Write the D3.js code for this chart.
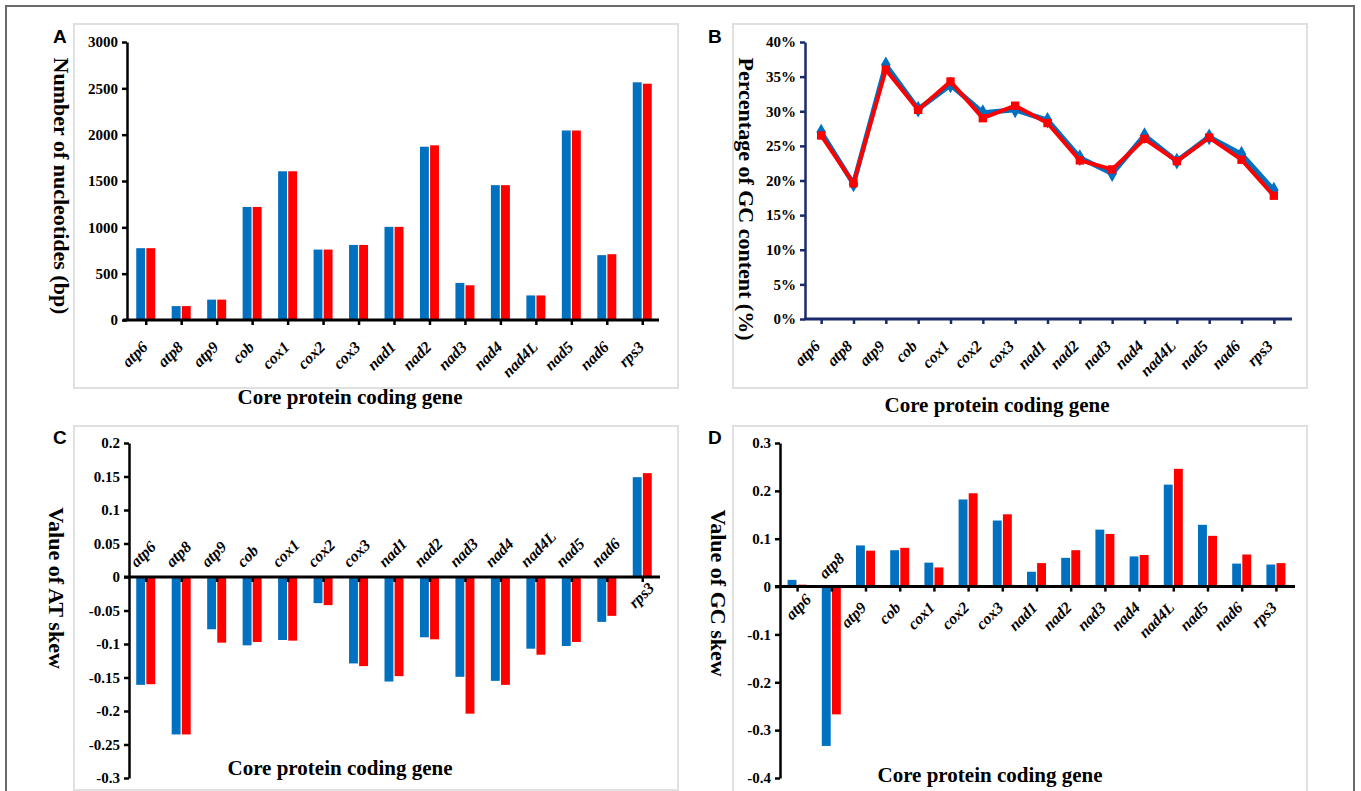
<!DOCTYPE html>
<html lang="en">
<head>
<meta charset="UTF-8">
<title>Core protein coding genes</title>
<script src="https://d3js.org/d3.v7.min.js"></script>
<style>
  body { margin: 0; background: #fff; }
  svg text { font-family: "Liberation Serif", "Times New Roman", serif; font-weight: bold; }
  svg text.panel-letter { font-family: "Liberation Sans", Arial, sans-serif; font-size: 19px; }
  .tick text { font-size: 15px; }
  .cat { font-size: 16px; font-style: italic; }
  .title { font-size: 21px; }
  .ytitle { font-size: 22px; }
</style>
</head>
<body>
<script>
// genes, shared by all four panels
const genes = ["atp6", "atp8", "atp9", "cob", "cox1", "cox2", "cox3", "nad1", "nad2",
               "nad3", "nad4", "nad4L", "nad5", "nad6", "rps3"];

// A: gene length (bp)
const lenBlue = [775, 150, 220, 1220, 1605, 760, 810, 1005, 1870, 400, 1455, 265, 2045, 700, 2565];
const lenRed  = [775, 150, 220, 1220, 1605, 760, 810, 1005, 1885, 375, 1455, 265, 2045, 710, 2550];

// B: GC content
const gcBlue = [0.270, 0.195, 0.367, 0.303, 0.338, 0.298, 0.302, 0.287, 0.233, 0.210, 0.265, 0.228, 0.263, 0.238, 0.186];
const gcRed  = [0.265, 0.196, 0.360, 0.302, 0.343, 0.290, 0.308, 0.283, 0.229, 0.216, 0.260, 0.228, 0.262, 0.230, 0.178];

// C: AT skew
const atBlue = [-0.161, -0.235, -0.078, -0.102, -0.094, -0.039, -0.129, -0.156, -0.090, -0.149, -0.155, -0.107, -0.103, -0.067, 0.149];
const atRed  = [-0.160, -0.235, -0.098, -0.097, -0.095, -0.042, -0.133, -0.148, -0.093, -0.204, -0.161, -0.116, -0.097, -0.058, 0.155];

// D: GC skew
const gsBlue = [0.014, -0.333, 0.086, 0.076, 0.050, 0.182, 0.138, 0.031, 0.060, 0.119, 0.063, 0.213, 0.129, 0.048, 0.046];
const gsRed  = [0.004, -0.267, 0.075, 0.081, 0.040, 0.195, 0.151, 0.049, 0.076, 0.110, 0.066, 0.246, 0.106, 0.067, 0.049];

// tick values
const ticksA = [0, 500, 1000, 1500, 2000, 2500, 3000];
const ticksB = [0, 0.05, 0.10, 0.15, 0.20, 0.25, 0.30, 0.35, 0.40];
const ticksC = [-0.3, -0.25, -0.2, -0.15, -0.1, -0.05, 0, 0.05, 0.1, 0.15, 0.2];
const ticksD = [-0.4, -0.3, -0.2, -0.1, 0, 0.1, 0.2, 0.3];

const BLUE = "#0070c0", RED = "#ff0000";

const svg = d3.select("body").append("svg")
    .attr("width", 1361).attr("height", 791);

svg.append("rect").attr("x", 6).attr("y", 6).attr("width", 1348).attr("height", 800)
    .attr("fill", "none").attr("stroke", "#6a6a6a").attr("stroke-width", 2);

function panelBox(x, y, w, h) {
    svg.append("rect").attr("x", x).attr("y", y).attr("width", w).attr("height", h)
        .attr("fill", "#fff").attr("stroke", "#e0e0e0").attr("stroke-width", 2);
}
panelBox(74, 24, 604, 364);
panelBox(733, 24, 574, 364);
panelBox(74, 426, 604, 364);
panelBox(733, 426, 574, 366);

function letter(t, x, y) {
    svg.append("text").attr("class", "panel-letter").attr("x", x).attr("y", y).text(t);
}
letter("A", 53, 43);
letter("B", 708, 43);
letter("C", 53, 444);
letter("D", 708, 444);

function yTitle(t, x, y) {
    svg.append("text").attr("class", "ytitle")
        .attr("transform", `translate(${x},${y}) rotate(90)`)
        .attr("text-anchor", "middle").attr("dominant-baseline", "central").text(t);
}
function xTitle(t, x, y) {
    svg.append("text").attr("class", "title").attr("x", x).attr("y", y)
        .attr("text-anchor", "middle").text(t);
}

const fmtNum = d => String(+d.toFixed(2));

// draw y axis + x axis line/ticks and the rotated gene labels
// labelPos returns [dx, dy, anchor] relative to the tick on the zero line
function axes(o) {
    const g = svg.append("g");
    const yAx = g.append("g").attr("transform", `translate(${o.yAxisX},0)`)
        .call(d3.axisLeft(o.y).tickValues(o.yTicks).tickFormat(o.fmt).tickSize(5).tickSizeOuter(0).tickPadding(4));
    yAx.attr("font-family", null).attr("font-size", null);
    yAx.select(".domain").attr("stroke", o.color).attr("stroke-width", 2.5);
    yAx.selectAll(".tick line").attr("stroke", o.color).attr("stroke-width", 2.5);
    yAx.selectAll(".tick text").attr("fill", "#000");

    const y0 = o.y(o.base);
    const xAx = g.append("g").attr("transform", `translate(0,${y0})`)
        .call(d3.axisBottom(o.x).tickSize(5).tickSizeOuter(0).tickFormat(""));
    xAx.select(".domain").attr("d", `M${o.xLine[0]},0H${o.xLine[1]}`)
        .attr("stroke", o.color).attr("stroke-width", 3);
    xAx.selectAll(".tick line").attr("stroke", o.color).attr("stroke-width", 2.5);

    g.selectAll(".cat").data(genes).join("text")
        .attr("class", "cat")
        .attr("text-anchor", (d, i) => o.labelPos(d, i)[2] || "end")
        .attr("transform", (d, i) => {
            const p = o.labelPos(d, i);
            return `translate(${o.x(d) + p[0]},${y0 + p[1]}) rotate(-45)`;
        })
        .text(d => d);
}

function bars(x, y, base, s1, s2) {
    const inner = d3.scaleBand().domain([0, 1]).range([-9.5, 9.5]).paddingInner(0.12);
    const rows = genes.map((gn, i) => ({ gene: gn, vals: [s1[i], s2[i]] }));
    svg.append("g").selectAll("g").data(rows).join("g")
        .attr("transform", d => `translate(${x(d.gene)},0)`)
        .selectAll("rect").data(d => d.vals).join("rect")
        .attr("x", (d, k) => inner(k))
        .attr("width", inner.bandwidth())
        .attr("y", d => Math.min(y(d), y(base)))
        .attr("height", d => Math.abs(y(d) - y(base)))
        .attr("fill", (d, k) => k === 0 ? BLUE : RED);
}

// ---- Panel A
{
    const x = d3.scalePoint().domain(genes).range([128, 660]).padding(0.5);
    const y = d3.scaleLinear().domain([0, 3000]).range([320, 42]);
    bars(x, y, 0, lenBlue, lenRed);
    axes({ x, y, base: 0, yAxisX: 127, yTicks: ticksA, fmt: d3.format("d"), color: "#000",
           xLine: [123, 659], labelPos: () => [3, 28] });
    yTitle("Number of nucleotides (bp)", 61, 186);
    xTitle("Core protein coding gene", 350, 404);
}

// ---- Panel B
{
    const x = d3.scalePoint().domain(genes).range([805, 1290]).padding(0.5);
    const y = d3.scaleLinear().domain([0, 0.4]).range([319, 42]);
    axes({ x, y, base: 0, yAxisX: 805, yTicks: ticksB, fmt: d => Math.round(d * 100) + "%", color: "#1b2a6b",
           xLine: [804, 1292], labelPos: () => [0, 28] });

    const line = d3.line().x(d => x(d.gene)).y(d => y(d.v));
    const sb = genes.map((gn, i) => ({ gene: gn, v: gcBlue[i] }));
    const sr = genes.map((gn, i) => ({ gene: gn, v: gcRed[i] }));
    svg.append("path").datum(sb).attr("d", line).attr("fill", "none")
        .attr("stroke", BLUE).attr("stroke-width", 5).attr("stroke-linejoin", "round");
    svg.append("g").selectAll("path").data(sb).join("path")
        .attr("transform", d => `translate(${x(d.gene)},${y(d.v)})`)
        .attr("d", d3.symbol(d3.symbolDiamond, 80)).attr("fill", BLUE);
    svg.append("path").datum(sr).attr("d", line).attr("fill", "none")
        .attr("stroke", RED).attr("stroke-width", 4).attr("stroke-linejoin", "round");
    svg.append("g").selectAll("path").data(sr).join("path")
        .attr("transform", d => `translate(${x(d.gene)},${y(d.v)})`)
        .attr("d", d3.symbol(d3.symbolSquare, 70)).attr("fill", RED);

    yTitle("Percentage of GC content (%)", 746, 199);
    xTitle("Core protein coding gene", 997, 412);
}

// ---- Panel C
{
    const x = d3.scalePoint().domain(genes).range([128, 660]).padding(0.5);
    const y = d3.scaleLinear().domain([-0.3, 0.2]).range([778, 443]);
    bars(x, y, 0, atBlue, atRed);
    axes({ x, y, base: 0, yAxisX: 129, yTicks: ticksC, fmt: fmtNum, color: "#000",
           xLine: [124, 660],
           labelPos: (d, i) => atBlue[i] < 0 ? [-9, -9, "start"] : [13, 12] });
    yTitle("Value of AT skew", 56, 588);
    xTitle("Core protein coding gene", 340, 775);
}

// ---- Panel D
{
    const x = d3.scalePoint().domain(genes).range([780, 1293]).padding(0.5);
    const y = d3.scaleLinear().domain([-0.4, 0.3]).range([778, 443]);
    bars(x, y, 0, gsBlue, gsRed);
    axes({ x, y, base: 0, yAxisX: 780, yTicks: ticksD, fmt: fmtNum, color: "#000",
           xLine: [775, 1295],
           labelPos: (d, i) => gsBlue[i] < 0 ? [-6, -7, "start"] : (i === 0 ? [15, 14] : [2, 22]) });
    yTitle("Value of GC skew", 718, 593);
    xTitle("Core protein coding gene", 990, 782);
}
</script>
</body>
</html>
